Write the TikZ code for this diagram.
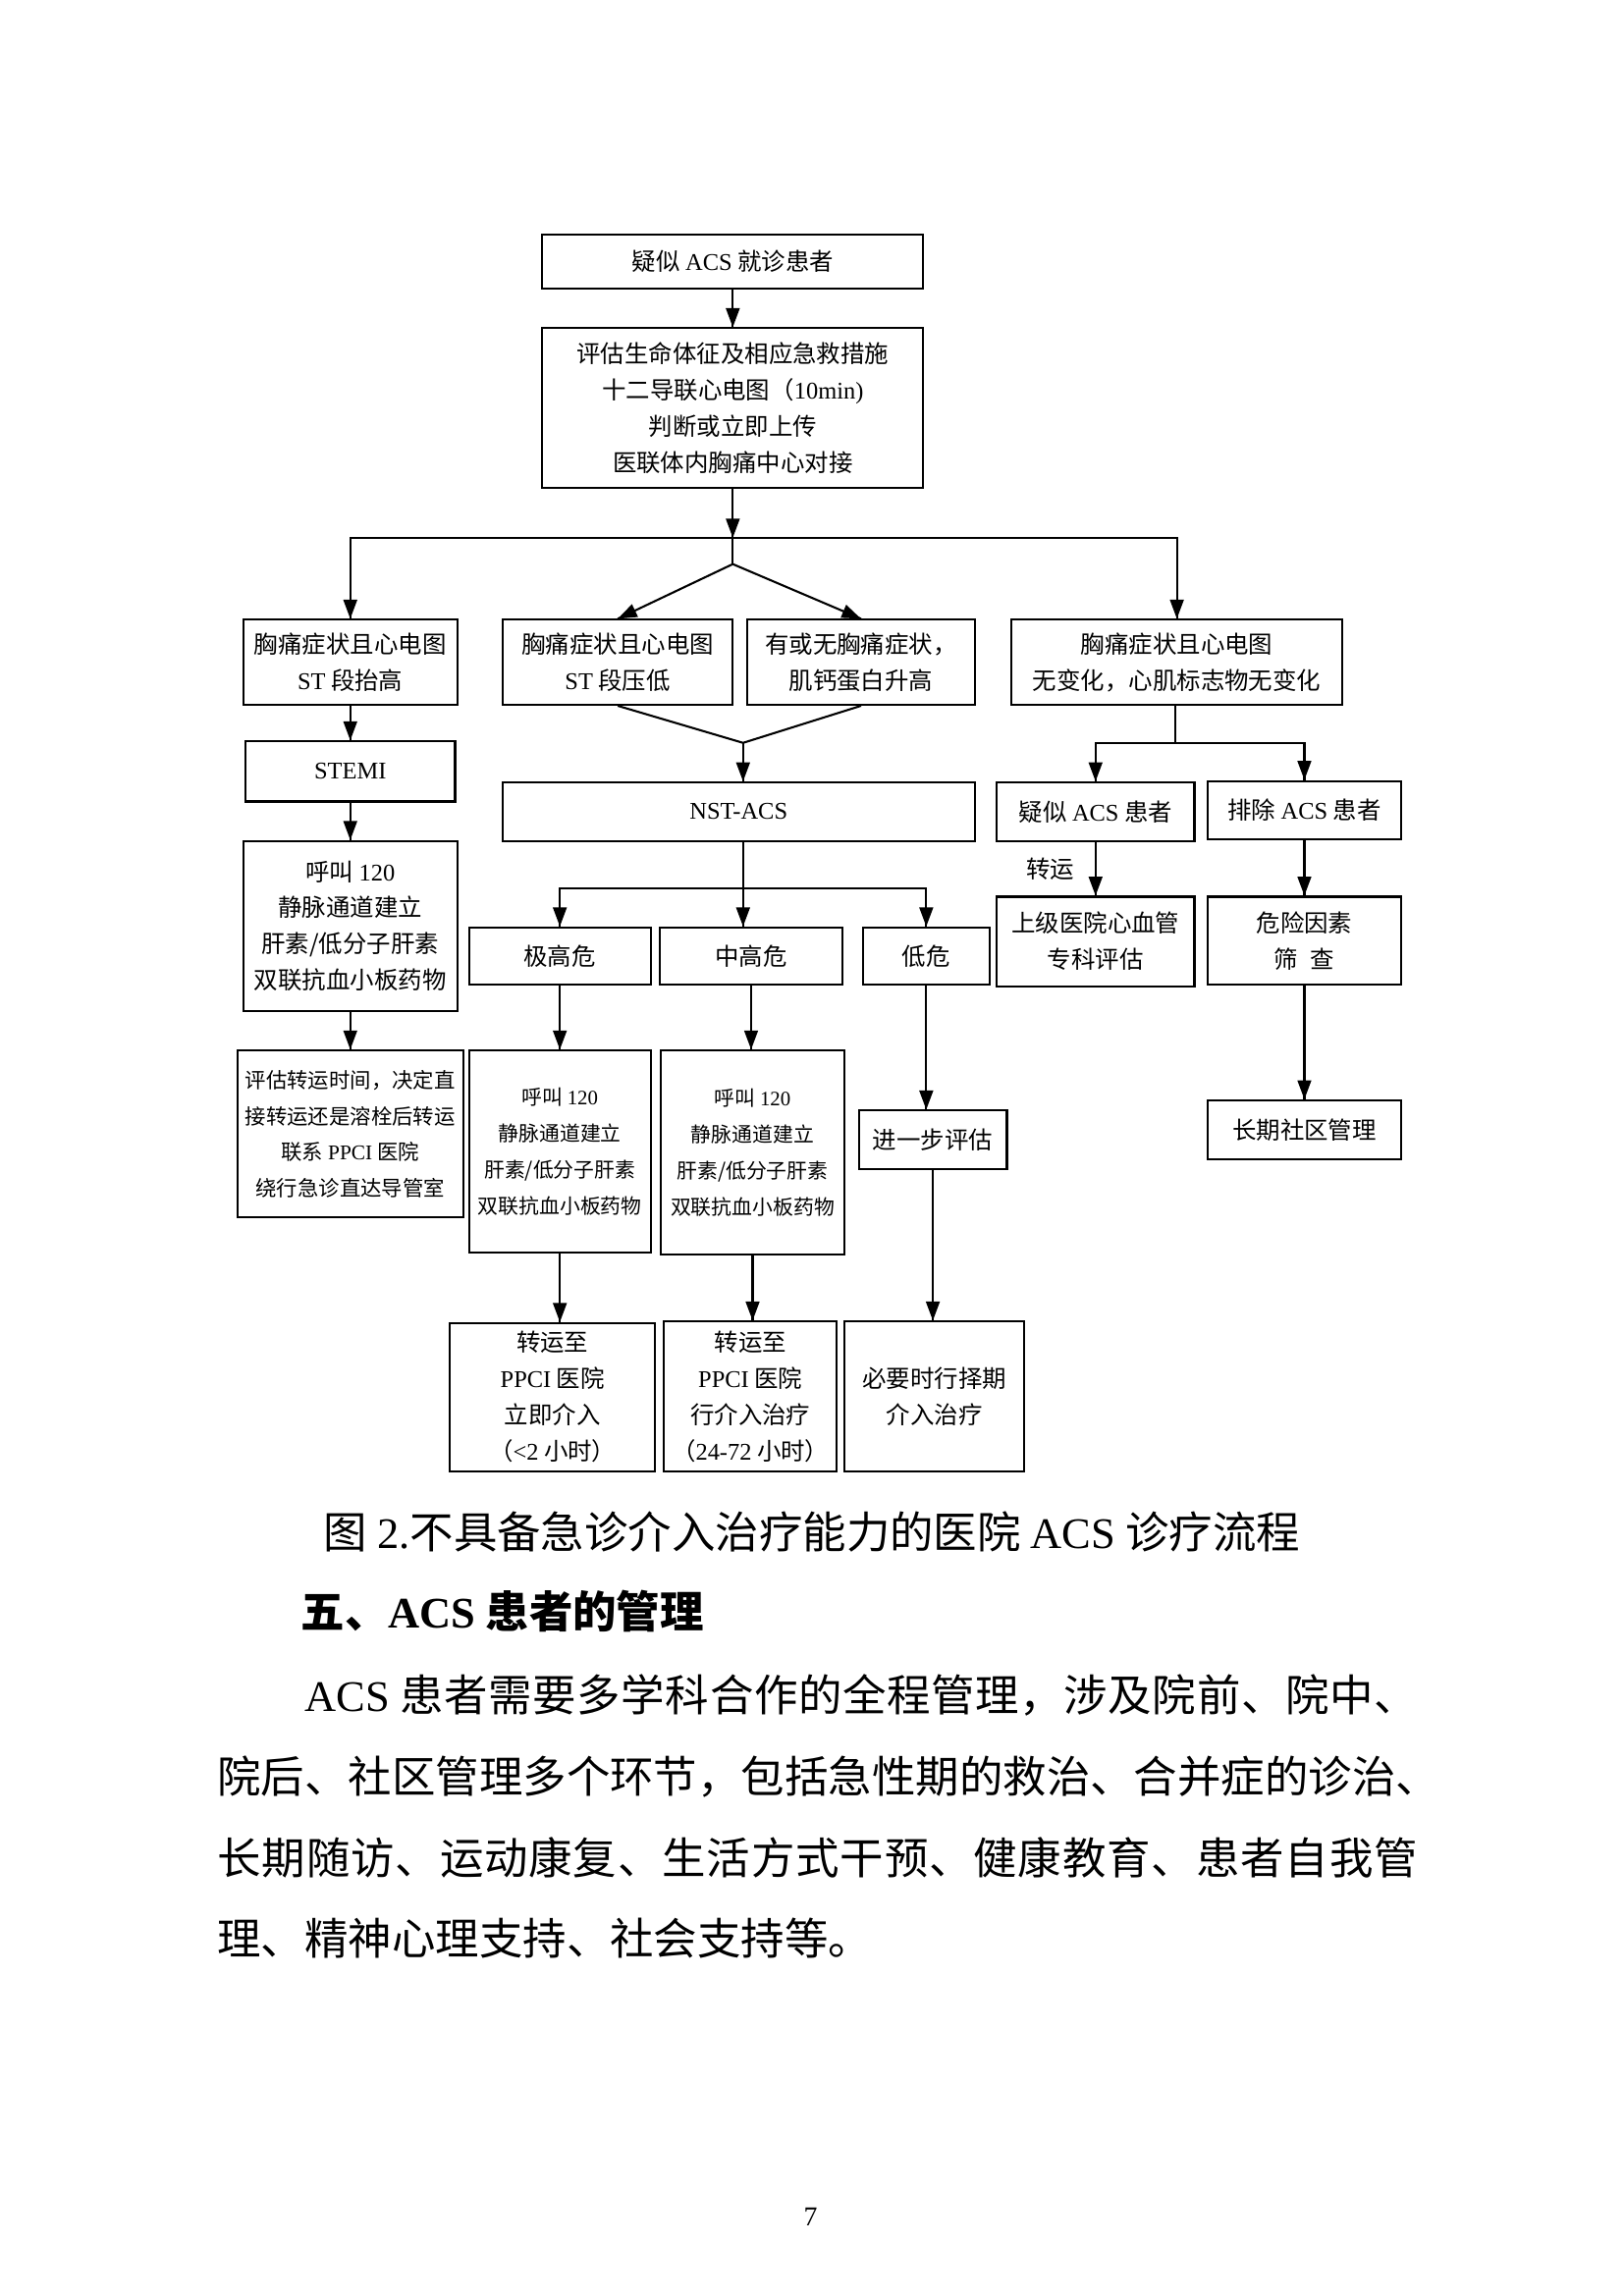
\documentclass[tikz,border=0pt]{standalone}
\usepackage{fontspec}
\usepackage{tikz}
\usetikzlibrary{arrows.meta}
\usetikzlibrary{decorations.markings}
\setmainfont{Liberation Serif}
\newfontfamily\cjk{Noto Sans CJK SC}
\newfontfamily\tnrfont{Liberation Serif}
\newcommand{\tnr}[1]{{\tnrfont #1}}
\def\spreadloop#1{\ifx\relax#1\else#1\hfil\expandafter\spreadloop\fi}
\newcommand{\spreadline}[1]{\spreadloop#1\relax\unskip}
\tikzset{box/.style = {draw, line width=0.75pt, align=center, inner sep=0pt,
                       font=\cjk\fontsize{8.8}{13.3}\selectfont}}
\tikzset{small/.style = {font=\cjk\fontsize{7.5}{13.3}\selectfont}}
\tikzset{wh/.style 2 args = {minimum width=#1*0.53726pt, minimum height=#2*0.53726pt}}
\tikzset{ln/.style = {line width=0.75pt}}
\tikzset{tip/.style = {line width=0.75pt,
                       decoration={markings,
                                   mark=at position 1 with {\arrow{Triangle[length=7pt, width=5pt]}}},
                       postaction={decorate}}}
\tikzset{body/.style = {font=\cjk\fontsize{16}{30}\selectfont, inner sep=0pt}}

\begin{document}
\begin{tikzpicture}[x=0.53726pt, y=-0.53726pt]
    \fill [white] (0, 0) rectangle (1108, 1567);
    \node [box, wh={260}{37}] (visit) at (500, 178.5) {疑似 \tnr{ACS} 就诊患者};
    \node [box, wh={260}{109}] (vital) at (500, 278.5) {评估生命体征及相应急救措施\\十二导联心电图（\tnr{10min)}\\判断或立即上传\\医联体内胸痛中心对接};
    \node [box, wh={146}{58}] (stUp) at (239, 452) {胸痛症状且心电图\\\tnr{ST} 段抬高};
    \node [box, wh={157}{58}] (stDown) at (421.5, 452) {胸痛症状且心电图\\\tnr{ST} 段压低};
    \node [box, wh={155}{58}] (tnI) at (587.5, 452) {有或无胸痛症状，\\肌钙蛋白升高};
    \node [box, wh={226}{58}] (noChg) at (803, 452) {胸痛症状且心电图\\无变化，心肌标志物无变化};
    \node [box, wh={143}{41}] (stemi) at (239, 526.5) {\tnr{STEMI}};
    \node [box, wh={146}{116}] (callA) at (239, 632) {呼叫 \tnr{120}\\静脉通道建立\\肝素/低分子肝素\\双联抗血小板药物};
    \node [box, wh={154}{114}, font=\cjk\fontsize{7.7}{13.1}\selectfont] (planA) at (239, 774) {评估转运时间，决定直\\接转运还是溶栓后转运\\联系 \tnr{PPCI} 医院\\绕行急诊直达导管室};
    \node [box, wh={322}{40}] (nste) at (504, 554) {\tnr{NST-ACS}};
    \node [box, wh={124}{39}] (vHigh) at (382, 652.5) {极高危};
    \node [box, wh={125}{39}] (mHigh) at (512.5, 652.5) {中高危};
    \node [box, wh={86}{39}] (low) at (632, 652.5) {低危};
    \node [box, small, wh={124}{138}] (callB) at (382, 786) {呼叫 \tnr{120}\\静脉通道建立\\肝素/低分子肝素\\双联抗血小板药物};
    \node [box, small, wh={125}{139}] (callC) at (513.5, 786.5) {呼叫 \tnr{120}\\静脉通道建立\\肝素/低分子肝素\\双联抗血小板药物};
    \node [box, wh={101}{40}] (further) at (636.5, 778) {进一步评估};
    \node [box, wh={140}{101}] (toNow) at (377, 953.5) {转运至\\\tnr{PPCI} 医院\\立即介入\\（\tnr{<2} 小时）};
    \node [box, wh={118}{102}] (toLater) at (512, 953) {转运至\\\tnr{PPCI} 医院\\行介入治疗\\（\tnr{24-72} 小时）};
    \node [box, wh={123}{102}] (elective) at (637.5, 953) {必要时行择期\\介入治疗};
    \node [box, wh={135}{40}] (susp) at (747.5, 554) {疑似 \tnr{ACS} 患者};
    \node [box, wh={132}{40}] (excl) at (890, 553) {排除 \tnr{ACS} 患者};
    \node [box, wh={135}{61}] (upper) at (747.5, 642.5) {上级医院心血管\\专科评估};
    \node [box, wh={132}{60}] (risk) at (890, 642) {危险因素\\筛\enspace 查};
    \node [box, wh={132}{40}] (community) at (890, 771) {长期社区管理};

    \coordinate (fork) at (500, 367);
    \coordinate (mid) at (500, 385);
    \coordinate (join) at (507, 507);
    \coordinate (nsFork) at (507, 606);
    \coordinate (ncFork) at (802, 507);

    \draw [tip] (visit) -- (vital);
    \draw [tip] (vital) -- (fork);
    \draw [tip] (fork) -| (stUp.north);
    \draw [tip] (fork) -| (noChg.north);
    \draw [ln] (fork) -- (mid);
    \draw [tip] (mid) -- (stDown.north);
    \draw [tip] (mid) -- (tnI.north);
    \draw [tip] (stUp) -- (stemi);
    \draw [tip] (stemi) -- (callA);
    \draw [tip] (callA) -- (planA);
    \draw [ln] (stDown.south) -- (join) -- (tnI.south);
    \draw [tip] (join) -- (join |- nste.north);
    \draw [ln] (nste.south -| nsFork) -- (nsFork);
    \draw [tip] (nsFork) -| (vHigh.north);
    \draw [tip] (nsFork) -- (nsFork |- mHigh.north);
    \draw [tip] (nsFork) -| (low.north);
    \draw [tip] (vHigh) -- (callB);
    \draw [tip] (mHigh.south) -- (mHigh.south |- callC.north);
    \draw [tip] (low.south) -- (low.south |- further.north);
    \draw [tip] (callB.south) -- (callB.south |- toNow.north);
    \draw [tip] (callC.south) -- (callC.south |- toLater.north);
    \draw [tip] (further.south) -- (further.south |- elective.north);
    \draw [ln] (noChg.south -| ncFork) -- (ncFork);
    \draw [tip] (ncFork) -| (susp.north);
    \draw [tip] (ncFork) -| (excl.north);
    \draw [tip] (susp) -- (upper) node [midway, left, xshift=-4pt, font=\cjk\fontsize{8.8}{13.3}\selectfont] (ship) {转运};
    \draw [tip] (excl) -- (risk);
    \draw [tip] (risk) -- (community);

    \node [body, anchor=base] (caption) at (554, 1057) {图 \tnr{2.}不具备急诊介入治疗能力的医院 \tnr{ACS} 诊疗流程};
    \node [body, anchor=base west, font=\cjk\bfseries\fontsize{16}{30}\selectfont] (heading) at (205, 1111) {五、\tnr{ACS} 患者的管理};
    \node [body, anchor=base west] (line1) at (148, 1168) {\makebox[440pt][s]{\hspace*{2em}\tnr{ACS}~\hfil\spreadline{患者需要多学科合作的全程管理，涉及院前、院中、}}};
    \node [body, anchor=base west] (line2) at (148, 1223.5) {院后、社区管理多个环节，包括急性期的救治、合并症的诊治、};
    \node [body, anchor=base west] (line3) at (148, 1279) {\makebox[440pt][s]{\spreadline{长期随访、运动康复、生活方式干预、健康教育、患者自我管}}};
    \node [body, anchor=base west] (line4) at (148, 1334.5) {理、精神心理支持、社会支持等。};
    \node [font=\tnrfont\fontsize{10}{12}\selectfont, anchor=base, inner sep=0pt] (page) at (553, 1519) {7};
\end{tikzpicture}
\end{document}
